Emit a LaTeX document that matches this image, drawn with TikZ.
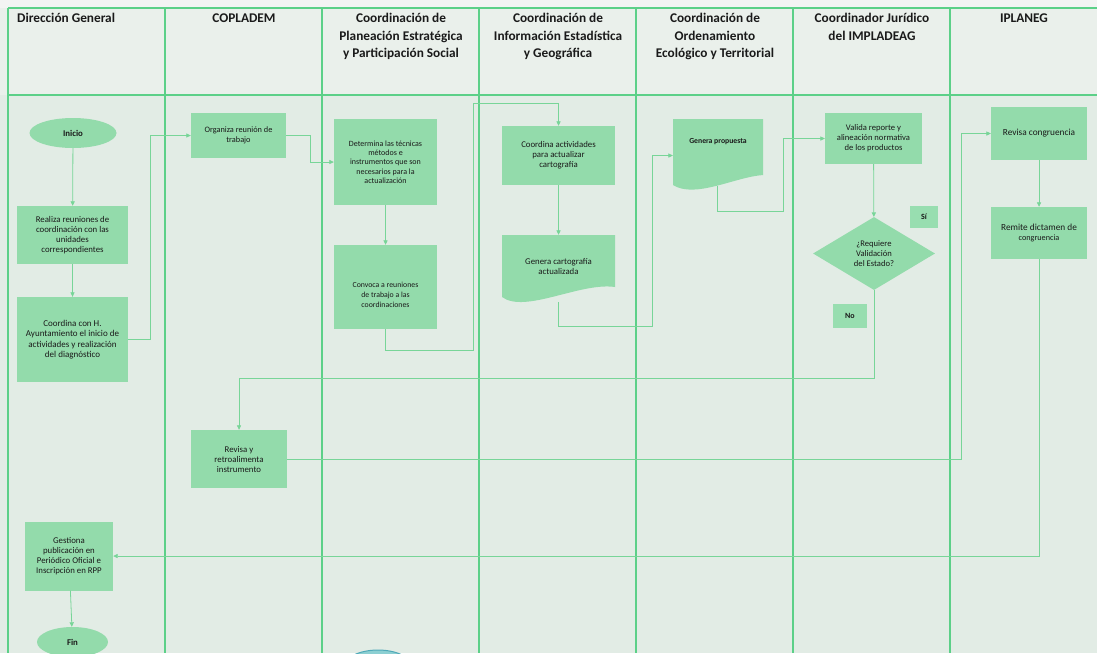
\documentclass[tikz,border=0pt]{standalone}
\usepackage{fontspec}
\setmainfont{Carlito}
\usetikzlibrary{arrows.meta,shapes.geometric}
\definecolor{bgbody}{HTML}{E2ECE5}
\definecolor{bghead}{HTML}{EAF0EB}
\definecolor{bgtop}{HTML}{F3F4F3}
\definecolor{laneclr}{HTML}{5CD088}
\definecolor{connclr}{HTML}{78D598}
\definecolor{boxfill}{HTML}{93DBAB}
\definecolor{lblfill}{HTML}{98DEB0}
\definecolor{txt}{HTML}{1A1A1A}
\definecolor{bluefill}{HTML}{8CCFD2}
\definecolor{bluedraw}{HTML}{4FA9B8}
\tikzset{
  laneline/.style={draw=laneclr, line width=1.1pt},
  cn/.style={draw=connclr, line width=0.8pt},
  cna/.style={cn, -{Triangle[length=4.5pt,width=4.2pt]}},
  proc/.style={rectangle, fill=boxfill, inner sep=0pt, align=center, text=txt,
    font=\fontsize{8.8}{10}\selectfont},
  term/.style={ellipse, fill=boxfill, inner sep=0pt, text=txt,
    font=\fontsize{8.8}{10}\selectfont\bfseries},
  lbl/.style={rectangle, fill=lblfill, inner sep=0pt, text=txt,
    font=\fontsize{8}{9}\selectfont\bfseries},
  hdr/.style={anchor=north, inner sep=0pt, align=center, text=txt,
    font=\fontsize{13.3}{17.5}\selectfont\bfseries},
  ghost/.style={rectangle, inner sep=0pt, align=center, text=txt,
    font=\fontsize{8.8}{10}\selectfont},
}
\newcommand{\hstrut}{\rule{0pt}{11pt}}
\begin{document}
\begin{tikzpicture}[x=1pt,y=-1pt]
\useasboundingbox (0,0) rectangle (1097,653);
% backgrounds
\fill[bgbody] (0,0) rectangle (1097,653);
\fill[bghead] (0,8) rectangle (1097,95);
\fill[bgtop] (0,0) rectangle (1097,8);
% partial ellipse at bottom edge
\begin{scope}
\clip (0,0) rectangle (1097,653);
\filldraw[fill=bluefill, draw=bluedraw, line width=1pt] (378,668) ellipse [x radius=35, y radius=18];
\end{scope}
% lane frame
\draw[laneline] (8,8) -- (1097,8);
\draw[laneline] (8,95) -- (1097,95);
\foreach \lx in {8,165,322,479,636,793,950}
  \draw[laneline] (\lx,8) -- (\lx,653);
% headers
\node[hdr, anchor=north west] (h1) at (17,11.5) {\hstrut Dirección General};
\node[hdr] (h2) at (244,11.5) {\hstrut COPLADEM};
\node[hdr] (h3) at (401,11.5) {\hstrut Coordinación de\\Planeación Estratégica\\y Participación Social};
\node[hdr] (h4) at (558,11.5) {\hstrut Coordinación de\\Información Estadística\\y Geográfica};
\node[hdr] (h5) at (715,11.5) {\hstrut Coordinación de\\Ordenamiento\\Ecológico y Territorial};
\node[hdr] (h6) at (872,11.5) {\hstrut Coordinador Jurídico\\del IMPLADEAG};
\node[hdr] (h7) at (1024,11.5) {\hstrut IPLANEG};
% lane 1
\node[term, minimum width=87pt, minimum height=30pt] (inicio) at (73,133) {Inicio};
\node[proc, minimum width=111pt, minimum height=58pt] (realiza) at (72.5,235) {Realiza reuniones de\\coordinación con las\\unidades\\correspondientes};
\node[proc, minimum width=111pt, minimum height=85pt, font=\fontsize{9}{10.3}\selectfont] (coordh) at (72.5,339.5) {Coordina con H.\\Ayuntamiento el inicio de\\actividades y realización\\del diagnóstico};
\node[proc, minimum width=88pt, minimum height=69pt] (gestiona) at (69,556) {Gestiona\\publicación en\\Periódico Oficial e\\Inscripción en RPP};
\node[term, minimum width=71pt, minimum height=30pt] (fin) at (72.5,642) {Fin};
% lane 2
\node[proc, minimum width=95pt, minimum height=45pt, font=\fontsize{8.3}{9.5}\selectfont] (organiza) at (238.5,135.5) {Organiza reunión de\\trabajo};
\node[proc, minimum width=96pt, minimum height=58pt] (revisar) at (239,459) {Revisa y\\retroalimenta\\instrumento};
% lane 3
\node[proc, minimum width=103pt, minimum height=86pt, font=\fontsize{8}{9.3}\selectfont] (determina) at (385.5,162) {Determina las técnicas\\métodos e\\instrumentos que son\\necesarios para la\\actualización};
\node[proc, minimum width=103pt, minimum height=84pt] (convoca) at (385.5,287) {};
\node[ghost, font=\fontsize{7.8}{10.3}\selectfont] (convocat) at (385.5,295) {Convoca a reuniones\\de trabajo a las\\coordinaciones};
% lane 4
\node[proc, minimum width=113pt, minimum height=59pt] (coordact) at (558.5,155.5) {Coordina actividades\\para actualizar\\cartografía};
\fill[boxfill] (502,235) -- (615,235) -- (615,287) .. controls (580,282) and (525,314) .. (502,297) -- cycle;
\node[ghost, minimum width=113pt, minimum height=62pt] (gencart) at (558.5,266) {Genera cartografía\\actualizada};
\coordinate (gcbot) at (558,302);
% lane 5
\fill[boxfill] (673,119) -- (763,119) -- (763,175) .. controls (735,177) and (695,199) .. (673,185) -- cycle;
\node[ghost, minimum width=90pt, minimum height=73pt] (genprop) at (718,155.5) {};
\node[ghost, font=\fontsize{7.7}{9}\selectfont\bfseries] (genpropt) at (718,142) {Genera propuesta};
\coordinate (gpbot) at (717,186);
% lane 6
\node[proc, minimum width=97pt, minimum height=51pt, font=\fontsize{8.6}{9.8}\selectfont] (valida) at (873.5,138.5) {Valida reporte y\\alineación normativa\\de los productos};
\node[diamond, fill=boxfill, inner sep=0pt, minimum width=122pt, minimum height=73pt, align=center, text=txt, font=\fontsize{8.6}{10}\selectfont] (decide) at (874,253.5) {¿Requiere\\Validación\\del Estado?};
\node[lbl, minimum width=28pt, minimum height=22pt] (si) at (924,217) {Sí};
\node[lbl, minimum width=34pt, minimum height=24pt] (no) at (850,316) {No};
% lane 7
\node[proc, minimum width=96pt, minimum height=53pt, font=\fontsize{9.3}{10.5}\selectfont] (revcong) at (1039,133.5) {Revisa congruencia};
\node[proc, minimum width=96pt, minimum height=52pt, font=\fontsize{9.3}{9.8}\selectfont] (remite) at (1039,233) {Remite dictamen de\\{\fontsize{8.2}{9.8}\selectfont congruencia}};
% connectors
\draw[cna] (inicio) -- (realiza);
\draw[cna] (realiza) -- (coordh);
\draw[cna] (coordh.east) -- ++(22,0) |- (organiza.west);
\draw[cna] (organiza.east) -- ++(24,0) |- (determina.west);
\draw[cna] (determina) -- (convoca);
\draw[cna] (convoca.south) |- (473,350) -- (473,103) -| (coordact.north);
\draw[cna] (coordact) -- (gencart.north);
\draw[cna] (gcbot) |- (652,326) |- (genprop.west);
\draw[cna] (gpbot) |- (783,211) |- (valida.west);
\draw[cna] (valida) -- (decide);
\draw[cna] (decide.south) -- ++(0,88) -| (revisar.north);
\draw[cna] (revisar.east) -- (961,459) |- (revcong.west);
\draw[cna] (revcong) -- (remite);
\draw[cna] (remite.south) |- (gestiona.east);
\draw[cna] (gestiona) -- (fin);
\end{tikzpicture}
\end{document}
